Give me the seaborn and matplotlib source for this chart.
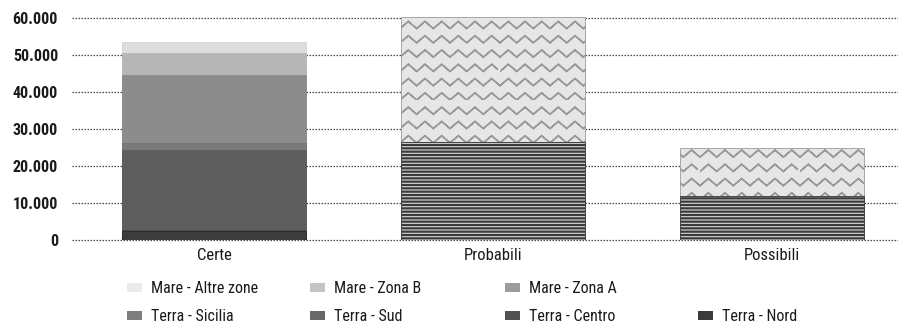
import warnings
warnings.filterwarnings("ignore")
import matplotlib
matplotlib.use("Agg")
import matplotlib.pyplot as plt
import matplotlib.hatch as mhatch
from matplotlib.path import Path
from matplotlib.patches import Patch
from matplotlib.ticker import FuncFormatter
import seaborn as sns
import numpy as np

# ---- data ----
categories = ["Certe", "Probabili", "Possibili"]
terra_nord = [2300, 0, 0]
terra_centro = [500, 0, 0]
terra_sud = [21500, 0, 0]
terra_sicilia = [1900, 0, 0]
terra_totale = [0, 26500, 11900]      # striped segment (Probabili / Possibili)
mare_zona_a = [18400, 0, 0]
mare_zona_b = [5900, 0, 0]
mare_altre_zone = [3000, 0, 0]
mare_totale = [0, 33800, 13000]       # zigzag segment (Probabili / Possibili)
y_ticks = [0, 10000, 20000, 30000, 40000, 50000, 60000]

legend_labels = ["Mare - Altre zone", "Mare - Zona B", "Mare - Zona A",
                 "Terra - Sicilia", "Terra - Sud", "Terra - Centro", "Terra - Nord"]


# ---- custom zig-zag hatch ('z'); each row is a zero-area closed path ----
class ZigZagHatch(mhatch.HatchPatternBase):
    teeth = 6

    def __init__(self, hatch, density):
        self.num_rows = int(hatch.count("z") * density * 1.25)
        n = 2 * self.teeth + 1
        self.per_row = 2 * n - 1
        self.num_vertices = self.num_rows * self.per_row

    def set_vertices_and_codes(self, vertices, codes):
        n = 2 * self.teeth + 1
        xs = np.linspace(0, 1, n)
        amp = 0.5 / max(self.num_rows, 1)
        m = self.per_row
        for r in range(self.num_rows):
            y0 = r / self.num_rows
            ys = y0 + np.where(np.arange(n) % 2 == 1, amp, 0.0)
            fx = np.concatenate([xs, xs[-2::-1]])
            fy = np.concatenate([ys, ys[-2::-1]])
            vertices[r * m:(r + 1) * m, 0] = fx
            vertices[r * m:(r + 1) * m, 1] = fy
            codes[r * m] = Path.MOVETO
            codes[r * m + 1:(r + 1) * m] = Path.LINETO


mhatch._hatch_types.append(ZigZagHatch)

sns.set_theme(style="white")
narrow = ["Roboto Condensed", "DejaVu Sans Condensed", "Liberation Sans Narrow",
          "Open Sans Condensed", "Roboto", "DejaVu Sans"]
plt.rcParams["font.family"] = narrow

fig = plt.figure(figsize=(8.98, 3.26), dpi=100)
ax = fig.add_axes([72 / 898, 1 - 240 / 326, 826 / 898, (240 - 16.15) / 326])

# stacking order bottom -> top, with styles
layers = [
    (terra_nord, dict(color="#3c3c3c", hatch=None, edge="#2a2a2a", hlw=1.0)),
    (terra_centro, dict(color="#4a4a4a", hatch=None, edge="#4a4a4a", hlw=1.0)),
    (terra_sud, dict(color="#5e5e5e", hatch=None, edge="#5e5e5e", hlw=1.0)),
    (terra_sicilia, dict(color="#7a7a7a", hatch=None, edge="#7a7a7a", hlw=1.0)),
    (terra_totale, dict(color="#d8d8d8", hatch="-----", edge="#3a3a3a", hlw=1.6)),
    (mare_zona_a, dict(color="#8c8c8c", hatch=None, edge="#8c8c8c", hlw=1.0)),
    (mare_zona_b, dict(color="#b6b6b6", hatch=None, edge="#b6b6b6", hlw=1.0)),
    (mare_altre_zone, dict(color="#dddddd", hatch=None, edge="#dddddd", hlw=1.0)),
    (mare_totale, dict(color="#e6e6e6", hatch="z", edge="#9a9a9a", hlw=1.1)),
]

cum = np.cumsum(np.array([l[0] for l in layers], dtype=float), axis=0)

for i in range(len(layers) - 1, -1, -1):
    vals, st = layers[i]
    plt.rcParams["hatch.linewidth"] = st["hlw"]
    sns.barplot(x=categories, y=cum[i], color=st["color"], saturation=1,
                width=0.66, ax=ax, edgecolor=st["edge"], linewidth=0.6,
                hatch=st["hatch"], zorder=2)

ax.set_ylim(0, 60500)
ax.set_xlim(-0.509, 2.452)
ax.set_yticks(y_ticks)
ax.yaxis.set_major_formatter(FuncFormatter(lambda v, p: f"{int(v):,}".replace(",", ".")))
ax.grid(axis="y", color="#444444", linestyle=(0, (1.2, 1.2)), linewidth=0.9, zorder=0)
ax.set_axisbelow(True)
for gl in ax.get_ygridlines():
    gl.set_clip_on(False)
for s in ax.spines.values():
    s.set_visible(False)
ax.tick_params(axis="y", length=0, pad=10, labelsize=11.5, labelcolor="#1a1a1a")
ax.tick_params(axis="x", length=0, pad=6, labelsize=12, labelcolor="#1a1a1a")
for t in ax.get_yticklabels():
    t.set_fontweight("bold")
ax.set_xlabel("")
ax.set_ylabel("")

# legend (4 columns, placed at the reference column positions)
leg_colors = {
    "Mare - Altre zone": "#ebebeb",
    "Mare - Zona B": "#c4c4c4",
    "Mare - Zona A": "#9c9c9c",
    "Terra - Sicilia": "#7e7e7e",
    "Terra - Sud": "#686868",
    "Terra - Centro": "#525252",
    "Terra - Nord": "#3a3a3a",
}
handles = {l: Patch(facecolor=leg_colors[l], edgecolor="none", label=l) for l in legend_labels}
blank = Patch(facecolor="none", edgecolor="none", label=" ")
columns = [
    [handles["Mare - Altre zone"], handles["Terra - Sicilia"]],
    [handles["Mare - Zona B"], handles["Terra - Sud"]],
    [handles["Mare - Zona A"], handles["Terra - Centro"]],
    [blank, handles["Terra - Nord"]],
]
col_x = [127, 310, 505, 698]
for cx, hs in zip(col_x, columns):
    lg = fig.legend(handles=hs, labels=[h.get_label() for h in hs], ncol=1,
                    loc="upper left", bbox_to_anchor=(cx / 898, 1 - 281 / 326),
                    bbox_transform=fig.transFigure, frameon=False, fontsize=11.5,
                    handlelength=0.95, handleheight=0.5, handletextpad=0.55,
                    labelspacing=0.8, borderaxespad=0, borderpad=0)
    for t in lg.get_texts():
        t.set_color("#1a1a1a")

fig.savefig("out.png", dpi=100)
